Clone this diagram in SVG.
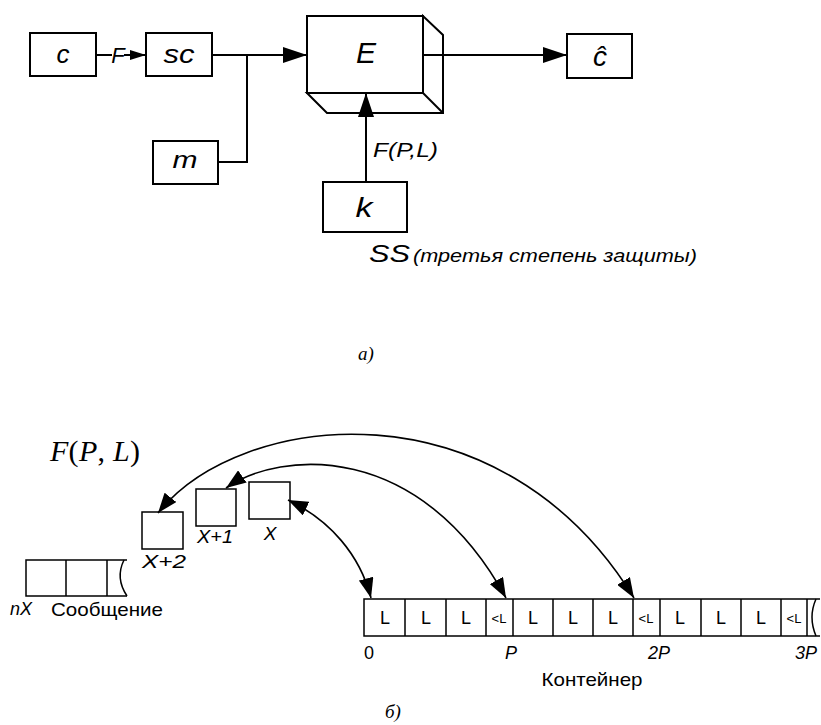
<svg xmlns="http://www.w3.org/2000/svg" width="821" height="725" viewBox="0 0 821 725">
<defs>
<marker id="ah" viewBox="0 0 20 15" refX="20" refY="7.5" markerWidth="20" markerHeight="15" markerUnits="userSpaceOnUse" orient="auto-start-reverse"><path d="M0,0 L20,7.5 L0,15 Z" fill="#000"/></marker>
<marker id="ahs" viewBox="0 0 16 10" refX="16" refY="5" markerWidth="16" markerHeight="10" markerUnits="userSpaceOnUse" orient="auto"><path d="M0,0 L16,5 L0,10 Z" fill="#000"/></marker>
<marker id="ahb" viewBox="0 0 24 16" refX="24" refY="8" markerWidth="24" markerHeight="16" markerUnits="userSpaceOnUse" orient="auto"><path d="M0,0 L24,8 L0,16 Z" fill="#000"/></marker>
</defs>
<style>
.b{fill:#fff;stroke:#000;stroke-width:2}
.t{fill:none;stroke:#000;stroke-width:1.5}
.ln{fill:none;stroke:#000;stroke-width:2}
.lt{fill:none;stroke:#000;stroke-width:1.6}
.it{font-family:"Liberation Sans",Arial,sans-serif;font-style:italic;fill:#000}
.s{font-family:"Liberation Sans",Arial,sans-serif;fill:#000}
.sf{font-family:"Liberation Serif","Times New Roman",serif;fill:#000}
.i{font-style:italic}
</style>
<rect width="821" height="725" fill="#fff"/>
<g id="node-c"><rect class="b" x="30" y="33" width="66" height="43"/><text class="it" x="63" y="63" font-size="26" text-anchor="middle">c</text></g>
<g id="node-sc"><rect class="b" x="146" y="33" width="66" height="43"/><text class="it" x="179" y="63" font-size="26" text-anchor="middle" textLength="31" lengthAdjust="spacingAndGlyphs">sc</text></g>
<g id="node-m"><rect class="b" x="153" y="141" width="65" height="43"/><text class="it" x="185" y="168" font-size="23" text-anchor="middle" textLength="25" lengthAdjust="spacingAndGlyphs">m</text></g>
<g id="node-E">
<path class="b" d="M307,93 L327,113 H443 V35 L423,16 V93 Z"/>
<path class="ln" d="M423,93 L443,113"/>
<rect class="b" x="307" y="16" width="116" height="77"/>
<text class="it" x="366" y="63" font-size="30" text-anchor="middle">E</text>
</g>
<g id="node-chat"><rect class="b" x="567" y="34" width="65" height="44"/><text class="it" x="600" y="66" font-size="28" text-anchor="middle">ĉ</text></g>
<g id="node-k"><rect class="b" x="323" y="182" width="84" height="50"/><text class="it" x="364" y="217" font-size="27" text-anchor="middle" textLength="17" lengthAdjust="spacingAndGlyphs">k</text></g>
<g id="connectors">
<path class="ln" d="M96,55 H112"/>
<path class="ln" d="M124,55 H146" marker-end="url(#ahs)"/>
<path class="ln" d="M212,55 H307" marker-end="url(#ahb)"/>
<path class="ln" d="M218,162 H247 V55"/>
<path class="ln" d="M423,55 H567" marker-end="url(#ahb)"/>
<path class="ln" d="M366,182 V93" marker-end="url(#ahb)"/>
<path class="lt" d="M288,500 C330,520 360,555 371,598" marker-start="url(#ah)" marker-end="url(#ah)"/>
<path class="lt" d="M226,488 C280,450 420,440 506,598" marker-start="url(#ah)" marker-end="url(#ah)"/>
<path class="lt" d="M158,513 C240,410 500,380 634,598" marker-start="url(#ah)" marker-end="url(#ah)"/>
</g>
<text class="it" x="118" y="63" font-size="22" text-anchor="middle">F</text>
<text class="it" x="373" y="157" font-size="21" textLength="65" lengthAdjust="spacingAndGlyphs">F(P,L)</text>
<text class="it" x="369" y="262" font-size="23" textLength="41" lengthAdjust="spacingAndGlyphs">SS</text>
<text class="it" x="413" y="262" font-size="19" textLength="284" lengthAdjust="spacingAndGlyphs">(третья степень защиты)</text>
<text class="sf i" x="358" y="360" font-size="19">a)</text>

<text class="sf" x="50" y="461" font-size="30" textLength="90" lengthAdjust="spacing"><tspan class="i">F</tspan>(<tspan class="i">P</tspan>, <tspan class="i">L</tspan>)</text>
<g id="node-x2"><rect class="t" x="142" y="512" width="41" height="37"/><text class="it" x="164" y="568" font-size="19" text-anchor="middle" textLength="44" lengthAdjust="spacingAndGlyphs">X+2</text></g>
<g id="node-x1"><rect class="t" x="196" y="489" width="40" height="37"/><text class="it" x="215" y="543" font-size="19" text-anchor="middle" textLength="36" lengthAdjust="spacingAndGlyphs">X+1</text></g>
<g id="node-x"><rect class="t" x="249" y="482" width="41" height="37"/><text class="it" x="270" y="540" font-size="19" text-anchor="middle">X</text></g>
<g id="node-message">
<path class="t" d="M127,560 H26 V596 H127"/>
<path class="t" d="M66,560 V596 M107,560 V596"/>
<path class="t" d="M124,560 Q115,578 127,596"/>
<text class="it" x="10" y="615" font-size="18">nX</text>
<text class="s" x="51" y="616" font-size="19" textLength="112" lengthAdjust="spacingAndGlyphs">Сообщение</text>
</g>
<g id="node-container">
<path class="t" d="M820,599 H364 V636 H820"/>
<path class="t" d="M405,599 V636 M446,599 V636 M486,599 V636 M513,599 V636 M553,599 V636 M593,599 V636 M633,599 V636 M660,599 V636 M701,599 V636 M741,599 V636 M781,599 V636 M807,599 V636"/>
<path class="t" d="M816,599 Q808,617 816,636"/>
<g class="s" font-size="18" text-anchor="middle">
<text x="385" y="624">L</text><text x="426" y="624">L</text><text x="466" y="624">L</text>
<text x="533" y="624">L</text><text x="573" y="624">L</text><text x="613" y="624">L</text>
<text x="680" y="624">L</text><text x="721" y="624">L</text><text x="761" y="624">L</text>
</g>
<g class="s" font-size="13" text-anchor="middle">
<text x="499" y="623">&lt;L</text><text x="646" y="623">&lt;L</text><text x="794" y="623">&lt;L</text>
</g>
<text class="s" x="364" y="659" font-size="18">0</text>
<text class="it" x="505" y="659" font-size="18">P</text>
<text class="it" x="648" y="659" font-size="18">2P</text>
<text class="it" x="795" y="659" font-size="18">3P</text>
<text class="s" x="592" y="686" font-size="19" text-anchor="middle" textLength="101" lengthAdjust="spacingAndGlyphs">Контейнер</text>
</g>
<text class="sf i" x="385" y="718" font-size="19">б)</text>
</svg>
